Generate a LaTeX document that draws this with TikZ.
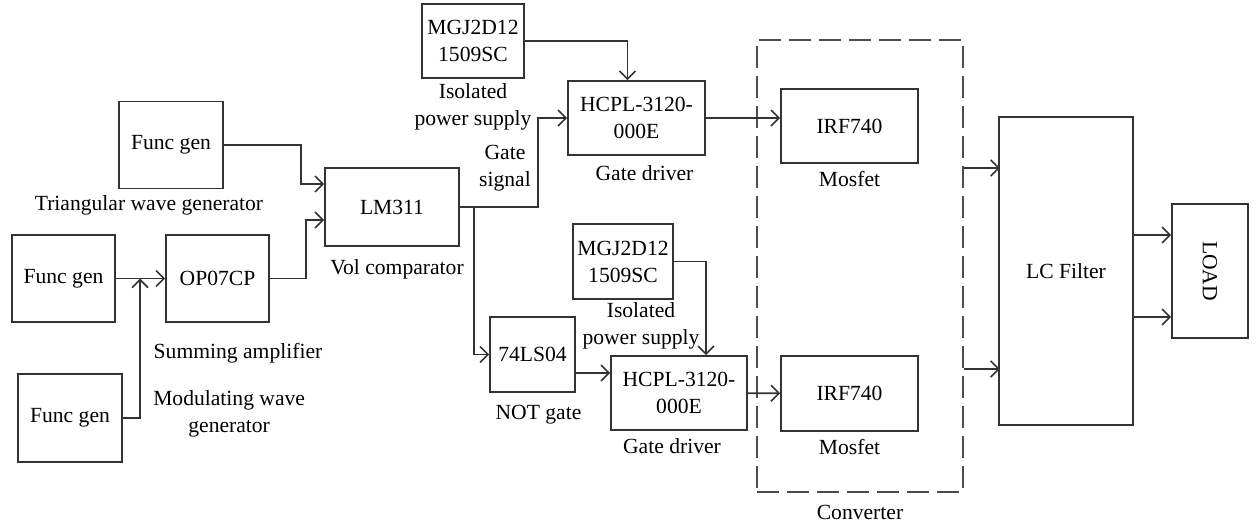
\documentclass[tikz,border=0pt]{standalone}
\usepackage{fontspec}
\setmainfont{Liberation Serif}
\usetikzlibrary{arrows.meta,positioning,calc}
\tikzset{
    blkbox/.style={draw=black!80, line width=0.85pt, align=center, inner sep=1pt},
    lblnode/.style={align=center, inner sep=1pt},
    convbox/.style={draw=black!70, line width=0.85pt, dash pattern=on 11pt off 4pt},
    sigarrow/.style={draw=black!80, line width=0.8pt, -{Straight Barb[length=4pt,width=8pt]}},
    sigline/.style={draw=black!80, line width=0.8pt}
}

\begin{document}
\begin{tikzpicture}[x=0.5pt, y=-0.5pt, font=\fontsize{10.8}{13.5}\selectfont, node distance=3pt]
\useasboundingbox (0,0) rectangle (1256,529);

% converter frame
\node[convbox, minimum width=103pt, minimum height=226pt] (conv) at (860,266) {};
\node[lblnode, below=5pt of conv] (convlbl) {Converter};

% signal generation
\node[blkbox, minimum width=52pt, minimum height=43.5pt] (fgtri) at (171,145) {Func gen};
\node[blkbox, minimum width=51.5pt, minimum height=43.5pt] (fgsum) at (63.5,278.5) {Func gen};
\node[blkbox, minimum width=51.5pt, minimum height=43.5pt] (op07) at (217.5,278.5) {OP07CP};
\node[blkbox, minimum width=52pt, minimum height=44pt] (fgmod) at (70,418) {Func gen};
\node[blkbox, minimum width=67pt, minimum height=39pt] (lm311) at (392,207) {LM311};

\node[lblnode, below=2pt of fgtri, xshift=-11pt] (trilbl) {Triangular wave generator};
\node[lblnode] (sumlbl) at (238,353) {Summing amplifier};
\node[lblnode, right=14pt of fgmod, yshift=2pt] (modlbl) {Modulating wave\\generator};
\node[lblnode, below=5pt of lm311, xshift=2.5pt] (cmplbl) {Vol comparator};

% gate drive, upper leg
\node[blkbox, minimum width=51pt, minimum height=37pt] (mgjtop) at (473,41) {MGJ2D12\\1509SC};
\node[blkbox, minimum width=68.5pt, minimum height=37pt] (hcpltop) at (636.5,118) {HCPL-3120-\\000E};
\node[blkbox, minimum width=68.5pt, minimum height=37pt] (irftop) at (849.5,126) {IRF740};

\node[lblnode, below=1pt of mgjtop] (isotop) {Isolated\\power supply};
\node[lblnode] (gatesig) at (505,168) {Gate\\signal};
\node[lblnode, below=3.5pt of hcpltop, xshift=4pt] (gdtop) {Gate driver};
\node[lblnode, below=2.5pt of irftop] (mostop) {Mosfet};

% gate drive, lower leg
\node[blkbox, minimum width=42.5pt, minimum height=37.5pt] (notg) at (532.5,354.5) {74LS04};
\node[blkbox, minimum width=50pt, minimum height=37.5pt] (mgjbot) at (623,261.5) {MGJ2D12\\1509SC};
\node[blkbox, minimum width=68pt, minimum height=37pt] (hcplbot) at (679,393) {HCPL-3120-\\000E};
\node[blkbox, minimum width=68.5pt, minimum height=37.5pt] (irfbot) at (849.5,393.5) {IRF740};

\node[lblnode, below=5pt of notg, xshift=3pt] (notlbl) {NOT gate};
\node[lblnode, below=0pt of mgjbot, xshift=9pt] (isobot) {Isolated\\power supply};
\node[lblnode, below=2.5pt of hcplbot, xshift=-3.5pt] (gdbot) {Gate driver};
\node[lblnode, below=2.5pt of irfbot] (mosbot) {Mosfet};

% output stage
\node[blkbox, minimum width=67pt, minimum height=154pt] (lcf) at (1066,271) {LC Filter};
\node[blkbox, minimum width=38pt, minimum height=67pt] (load) at (1210,271) {\rotatebox{-90}{LOAD}};

% connectors
\coordinate (sumj) at (140,278.5);
\coordinate (split) at ($(lm311.east)+(14,0)$);
\coordinate (notout) at ($(notg.east)+(0,18.5)$);

\draw[sigarrow] (fgtri.east) -- ++(77,0) |- ($(lm311.west)+(0,-23)$);
\draw[sigarrow] (op07.east) -- ++(36,0) |- ($(lm311.west)+(0,13)$);
\draw[sigarrow] (fgsum) -- (op07);
\draw[sigarrow] (fgmod.east) -| (sumj);
\draw[sigarrow] (lm311.east) -- ++(78,0) |- (hcpltop.west);
\draw[sigarrow] (split) |- (notg.west);
\draw[sigarrow] (mgjtop.east) -| ($(hcpltop.north)+(-9,0)$);
\draw[sigarrow] (hcpltop.east) -- (hcpltop.east -| irftop.west);
\draw[sigarrow] (mgjbot.east) -| ($(hcplbot.north)+(27,0)$);
\draw[sigarrow] (notout) -- (notout -| hcplbot.west);
\draw[sigarrow] (hcplbot) -- (irfbot);
\draw[sigarrow] ($(conv.east)+(0,-98)$) -- ($(conv.east)+(36,-98)$);
\draw[sigarrow] ($(conv.east)+(0,103)$) -- ($(conv.east)+(36,103)$);
\draw[sigarrow] ($(lcf.east)+(0,-36)$) -- ($(load.west)+(0,-36)$);
\draw[sigarrow] ($(lcf.east)+(0,46)$) -- ($(load.west)+(0,46)$);
\end{tikzpicture}
\end{document}
